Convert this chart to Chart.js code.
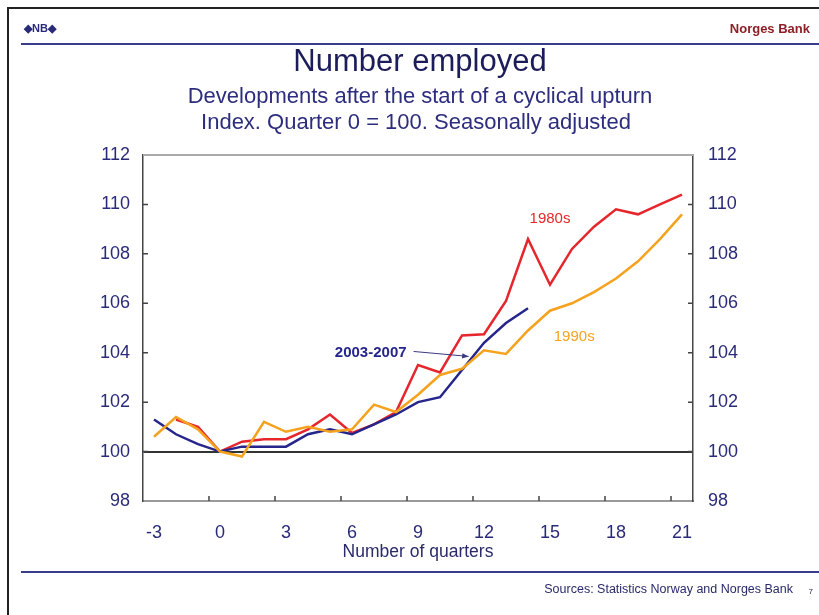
<!DOCTYPE html>
<html>
<head>
<meta charset="utf-8">
<script src="https://cdn.jsdelivr.net/npm/chart.js@4.4.1/dist/chart.umd.min.js"></script>
<style>
  html, body { margin: 0; padding: 0; background: #fff; }
  canvas { display: block; }
</style>
</head>
<body>
<canvas id="chart" width="819" height="615"></canvas>
<script>
// quarters after the start of the upturn
const quarters = [-3, -2, -1, 0, 1, 2, 3, 4, 5, 6, 7, 8, 9, 10, 11, 12, 13, 14, 15, 16, 17, 18, 19, 20, 21];
const tickEvery = 3;

// index, quarter 0 = 100
const series1980s = [null, 101.3, 101.0, 100.0, 100.4, 100.5, 100.5, 100.9, 101.5, 100.75, 101.1, 101.6, 103.5, 103.2, 104.7, 104.75, 106.1, 108.6, 106.75, 108.2, 109.1, 109.8, 109.6, 110.0, 110.4];
const series1990s = [100.6, 101.4, 100.9, 100.0, 99.8, 101.2, 100.8, 101.0, 100.8, 100.9, 101.9, 101.6, 102.3, 103.1, 103.35, 104.1, 103.95, 104.9, 105.7, 106.0, 106.45, 107.0, 107.7, 108.6, 109.6];
const series2003 = [101.3, 100.7, 100.3, 100.0, 100.2, 100.2, 100.2, 100.7, 100.9, 100.7, 101.1, 101.5, 102.0, 102.2, 103.3, 104.4, 105.2, 105.8, null, null, null, null, null, null, null];

const yMin = 98, yMax = 112, yStep = 2;

const navy = "#2a2a7a";
const red = "#e5262c";
const orange = "#f5a21f";
const blue = "#25258c";
const font = "'Liberation Sans', Arial, sans-serif";

// frame, header, footer, inward tick marks and line labels
const decorations = {
  id: "decorations",
  beforeDraw(chart) {
    const ctx = chart.ctx;
    ctx.save();
    ctx.fillStyle = "#fff";
    ctx.fillRect(0, 0, chart.width, chart.height);
    // outer frame
    ctx.strokeStyle = "#222";
    ctx.lineWidth = 2;
    ctx.beginPath();
    ctx.moveTo(8, 615); ctx.lineTo(8, 8); ctx.lineTo(819, 8);
    ctx.stroke();
    // header
    ctx.fillStyle = navy;
    ctx.font = "bold 11px " + font;
    ctx.textBaseline = "middle";
    ctx.textAlign = "left";
    ctx.fillText("◆NB◆", 24, 29);
    ctx.fillStyle = "#8e1f26";
    ctx.font = "bold 13px " + font;
    ctx.textAlign = "right";
    ctx.fillText("Norges Bank", 810, 29);
    ctx.strokeStyle = "#3b3b8e";
    ctx.lineWidth = 2;
    ctx.beginPath();
    ctx.moveTo(21, 44); ctx.lineTo(819, 44);
    ctx.moveTo(21, 572); ctx.lineTo(819, 572);
    ctx.stroke();
    // titles
    ctx.textAlign = "center";
    ctx.fillStyle = "#1c1c5a";
    ctx.font = "31px " + font;
    ctx.fillText("Number employed", 420, 62);
    ctx.fillStyle = "#2d2d7e";
    ctx.font = "22px " + font;
    ctx.fillText("Developments after the start of a cyclical upturn", 420, 97);
    ctx.fillText("Index. Quarter 0 = 100. Seasonally adjusted", 416, 123);
    // footer
    ctx.fillStyle = "#2a2a6a";
    ctx.font = "12.5px " + font;
    ctx.textAlign = "right";
    ctx.fillText("Sources: Statistics Norway and Norges Bank", 793, 590);
    ctx.font = "8px " + font;
    ctx.fillText("7", 813, 592);
    ctx.restore();
  },
  afterDatasetsDraw(chart) {
    const ctx = chart.ctx;
    const { left, right, top, bottom } = chart.chartArea;
    const x = chart.scales.x, y = chart.scales.y;
    ctx.save();
    // top border
    ctx.strokeStyle = "#aaa";
    ctx.lineWidth = 2;
    ctx.beginPath();
    ctx.moveTo(left, top); ctx.lineTo(right, top);
    ctx.stroke();
    // inward ticks on both value axes
    ctx.strokeStyle = "#444";
    ctx.lineWidth = 1.5;
    ctx.beginPath();
    for (let v = yMin + yStep; v < yMax; v += yStep) {
      const py = y.getPixelForValue(v);
      ctx.moveTo(left, py); ctx.lineTo(left + 5, py);
      ctx.moveTo(right, py); ctx.lineTo(right - 5, py);
    }
    // inward ticks on category axis, between categories
    for (let i = tickEvery; i < quarters.length; i += tickEvery) {
      const px = (x.getPixelForValue(i - 1) + x.getPixelForValue(i)) / 2;
      ctx.moveTo(px, bottom); ctx.lineTo(px, bottom - 5);
    }
    ctx.stroke();
    // line labels
    ctx.font = "15px " + font;
    ctx.textAlign = "center";
    ctx.textBaseline = "middle";
    ctx.fillStyle = red;
    ctx.fillText("1980s", x.getPixelForValue(18), y.getPixelForValue(109.4));
    ctx.fillStyle = orange;
    ctx.fillText("1990s", x.getPixelForValue(19.1), y.getPixelForValue(104.65));
    ctx.fillStyle = blue;
    ctx.font = "bold 15px " + font;
    ctx.fillText("2003-2007", x.getPixelForValue(9.85), y.getPixelForValue(104.0));
    // arrow to the 2003-2007 line
    const x0 = x.getPixelForValue(11.8), y0 = y.getPixelForValue(104.05);
    const x1 = x.getPixelForValue(14.3), y1 = y.getPixelForValue(103.85);
    ctx.strokeStyle = "#3a3a80";
    ctx.lineWidth = 1;
    ctx.beginPath();
    ctx.moveTo(x0, y0); ctx.lineTo(x1, y1);
    ctx.stroke();
    const a = Math.atan2(y1 - y0, x1 - x0);
    ctx.fillStyle = "#3a3a80";
    ctx.beginPath();
    ctx.moveTo(x1, y1);
    ctx.lineTo(x1 - 7 * Math.cos(a - 0.4), y1 - 7 * Math.sin(a - 0.4));
    ctx.lineTo(x1 - 7 * Math.cos(a + 0.4), y1 - 7 * Math.sin(a + 0.4));
    ctx.closePath();
    ctx.fill();
    ctx.restore();
  }
};

new Chart(document.getElementById("chart").getContext("2d"), {
  type: "line",
  data: {
    labels: quarters,
    datasets: [
      { label: "1990s", data: series1990s, borderColor: orange, borderWidth: 2.5 },
      { label: "2003-2007", data: series2003, borderColor: blue, borderWidth: 2.5 },
      { label: "1980s", data: series1980s, borderColor: red, borderWidth: 2.5 }
    ]
  },
  options: {
    responsive: false,
    animation: false,
    devicePixelRatio: 1,
    layout: { padding: { top: 155, left: 0, right: 0, bottom: 0 } },
    elements: { point: { radius: 0 }, line: { tension: 0 } },
    plugins: { legend: { display: false }, tooltip: { enabled: false }, title: { display: false } },
    scales: {
      x: {
        type: "category",
        offset: true,
        afterFit: (s) => { s.height = 114; },
        grid: { display: false },
        border: { display: true, color: "#999", width: 2 },
        ticks: {
          autoSkip: false,
          maxRotation: 0,
          padding: 13,
          color: navy,
          font: { family: font, size: 18 },
          callback: (v, i) => (i % tickEvery === 0 ? quarters[i] : "")
        },
        title: {
          display: true,
          text: "Number of quarters",
          color: "#2a2a6a",
          font: { family: font, size: 17.5 },
          padding: { top: 0, bottom: 52 }
        }
      },
      y: {
        position: "left",
        min: yMin, max: yMax,
        afterFit: (s) => { s.width = 143; },
        border: { display: true, color: "#444", width: 1.5 },
        grid: {
          drawTicks: false,
          color: (c) => (c.tick && c.tick.value === 100 ? "#333" : "rgba(0,0,0,0)"),
          lineWidth: 2
        },
        ticks: { stepSize: yStep, padding: 13, color: navy, font: { family: font, size: 18 } }
      },
      y2: {
        position: "right",
        min: yMin, max: yMax,
        afterFit: (s) => { s.width = 126; },
        border: { display: true, color: "#444", width: 1.5 },
        grid: { display: false, drawTicks: false },
        ticks: { stepSize: yStep, padding: 15, color: navy, font: { family: font, size: 18 } }
      }
    }
  },
  plugins: [decorations]
});
</script>
</body>
</html>
